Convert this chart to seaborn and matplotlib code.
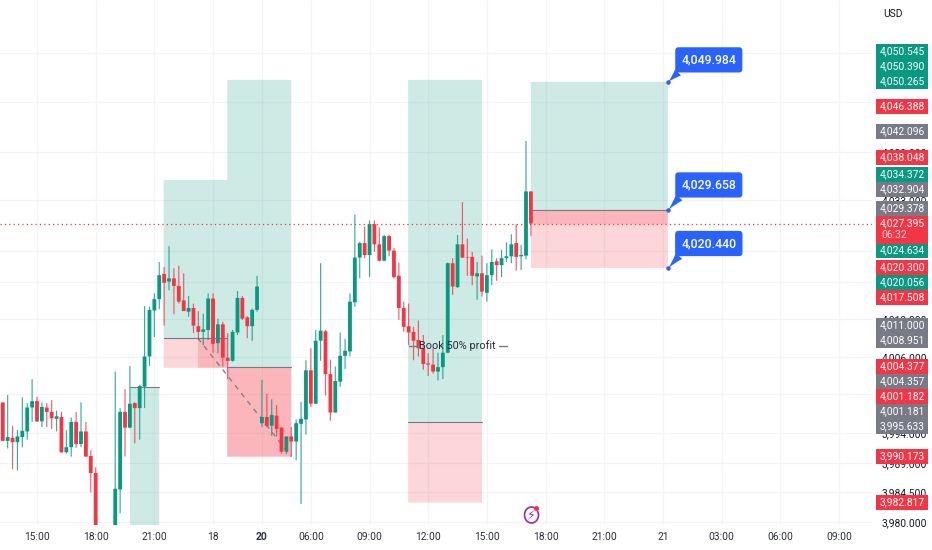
import numpy as np
import pandas as pd
import matplotlib
matplotlib.use("Agg")
import matplotlib.pyplot as plt
from matplotlib.patches import Rectangle, Ellipse
import seaborn as sns

nan = float("nan")

# 15 min bars, bar 0 is the 15:00 candle
first_bar = -7
opens = [3999.1, 3993.0, 3993.5, 3992.8, 3993.6, 3994.5, 3998.3,
         3999.3, 3996.1, 3998.3, 3997.6, 3996.5, 3996.8, 3991.2, 3992.0, 3996.0, 3992.5, 3994.5, 3990.6, 3987.9,
         nan, nan, nan,
         3978.0, 3985.3, 3997.6, 3995.1, 3999.0, 3998.2, 4001.6, 4006.4, 4013.7, 4015.5,
         4019.5, 4018.3, 4018.8, 4017.6, 4015.3, 4013.5, 4014.1, 4011.2, 4010.3, 4010.6, 4015.6, 4008.5, 4011.5, 4006.2,
         4005.7, 4010.2, 4015.7, 4012.6, 4011.2, 4013.8,
         3995.8, 3996.8, 3995.4, 3997.0, 3995.1, 3991.3, 3993.7, 3992.9, 3995.7, 3996.4,
         4004.2, 3998.9, 4008.9, 4010.4, 4003.6, 3997.5, 4002.4, 4006.5, 4007.2, 4015.0,
         4022.1, 4024.4, 4022.5, 4027.4, 4024.2, 4021.6, 4025.5, 4023.2, 4019.2, 4014.1, 4011.2, 4010.3, 4009.0, 4007.7,
         4005.3, 4005.1, 4004.0, 4004.7, 4007.0, 4021.2, 4017.4, 4024.2, 4022.2, 4022.2, 4019.1, 4019.6, 4016.5, 4019.3,
         4021.5, 4020.9, 4022.0, 4022.3, 4024.4, 4022.3, 4022.4, 4032.6]
highs = [3999.1, 4000.3, 3995.4, 3994.7, 3999.9, 3999.0, 4002.8,
         4000.0, 3999.1, 3999.0, 3999.5, 3997.8, 3997.6, 3994.7, 3996.7, 3997.6, 3999.1, 3996.0, 3991.5, 3988.8,
         nan, nan, nan,
         4004.0, 3998.2, 4001.2, 4004.9, 3999.1, 4001.9, 4014.4, 4014.3, 4016.4, 4021.4,
         4020.6, 4023.9, 4020.4, 4020.8, 4019.6, 4016.0, 4014.8, 4013.6, 4013.2, 4016.4, 4016.4, 4012.4, 4011.9, 4010.1,
         4010.6, 4016.8, 4016.0, 4012.8, 4014.0, 4019.2,
         4002.7, 4000.5, 3999.6, 3998.7, 3995.2, 3993.7, 3995.2, 3996.4, 3999.2, 4005.8,
         4007.7, 4010.6, 4021.2, 4010.6, 4005.9, 4004.8, 4010.2, 4009.2, 4016.4, 4028.9,
         4024.6, 4027.0, 4028.0, 4028.0, 4026.9, 4025.7, 4025.7, 4023.6, 4021.3, 4015.1, 4014.8, 4011.1, 4012.1, 4009.8,
         4006.9, 4007.7, 4007.0, 4009.8, 4021.3, 4022.0, 4025.7, 4030.9, 4025.1, 4023.0, 4021.4, 4022.4, 4021.2, 4023.4,
         4022.0, 4023.3, 4024.5, 4025.8, 4027.4, 4024.1, 4040.6, 4032.6]
lows = [3993.0, 3991.8, 3988.5, 3988.3, 3992.0, 3993.2, 3996.0,
        3996.0, 3995.2, 3995.2, 3994.9, 3994.5, 3991.1, 3991.0, 3990.5, 3991.9, 3992.0, 3990.5, 3984.8, 3978.0,
        nan, nan, nan,
        3978.0, 3981.5, 3990.5, 3995.0, 3992.6, 3993.2, 3998.2, 4004.9, 4009.5, 4013.9,
        4011.3, 4016.9, 4013.1, 4014.8, 4013.6, 4012.7, 4010.1, 4009.0, 4008.2, 4009.0, 4007.0, 4006.9, 4004.8, 4002.8,
        4005.6, 4009.8, 4012.2, 4009.3, 4008.9, 4013.5,
        3995.2, 3995.2, 3993.8, 3993.7, 3991.0, 3990.9, 3990.5, 3989.9, 3983.0, 3994.0,
        3998.4, 3998.9, 4005.7, 4000.2, 3996.2, 3997.5, 4001.6, 4004.4, 4006.4, 4014.3,
        4018.8, 4022.0, 4019.0, 4023.0, 4021.5, 4021.5, 4022.3, 4018.8, 4012.2, 4010.3, 4008.2, 4005.8, 4006.4, 4004.3,
        4003.3, 4003.7, 4002.6, 4002.8, 4006.9, 4016.2, 4017.3, 4022.0, 4019.2, 4017.7, 4015.4, 4015.9, 4015.1, 4017.7,
        4018.4, 4019.0, 4021.4, 4021.2, 4020.0, 4020.1, 4021.8, 4025.5]
closes = [3993.0, 3993.6, 3992.8, 3993.7, 3994.6, 3998.3, 3999.3,
          3996.1, 3998.4, 3997.6, 3996.6, 3996.9, 3991.2, 3992.0, 3996.0, 3992.5, 3994.5, 3990.5, 3987.9, 3978.0,
          nan, nan, nan,
          3985.4, 3997.6, 3995.1, 3998.9, 3998.2, 4001.7, 4006.4, 4013.8, 4015.5, 4019.3,
          4018.1, 4018.8, 4017.6, 4015.1, 4013.6, 4014.1, 4011.3, 4010.3, 4010.7, 4015.6, 4008.4, 4011.5, 4006.2, 4005.7,
          4010.3, 4015.7, 4012.4, 4011.2, 4013.8, 4017.5,
          3996.8, 3995.4, 3997.1, 3994.9, 3991.3, 3993.7, 3992.9, 3995.8, 3996.5, 4004.2,
          3998.9, 4008.9, 4010.5, 4003.6, 3997.5, 4002.5, 4006.5, 4007.3, 4015.1, 4022.1,
          4024.4, 4022.5, 4027.4, 4024.2, 4021.6, 4025.5, 4023.2, 4019.0, 4014.1, 4011.1, 4010.2, 4008.9, 4007.7, 4005.2,
          4005.1, 4004.0, 4004.7, 4007.0, 4021.2, 4017.5, 4024.2, 4022.1, 4022.1, 4019.2, 4019.6, 4016.7, 4019.3, 4021.4,
          4020.9, 4022.0, 4022.3, 4024.2, 4022.2, 4022.5, 4032.6, 4027.5]

time_ticks = [0, 12, 24, 36, 46, 56, 68, 80, 92, 104, 116, 128, 140, 152, 164]
time_labels = ["15:00", "18:00", "21:00", "18", "20", "06:00", "09:00", "12:00", "15:00", "18:00", "21:00", "21", "03:00", "06:00", "09:00"]
price_ticks = [4054.6, 4046.8, 4038.8, 4031.2, 4023.1, 4018.2, 4012.3, 4006.3, 4000.4, 3994.2, 3989.5, 3984.9, 3980.1]
price_labels = ["4,052.000", "4,046.000", "4,039.000", "4,033.000", "4,026.000", "4,020.000", "4,013.000", "4,006.000",
                "4,000.000", "3,994.000", "3,989.000", "3,984.500", "3,980.000"]
last_price = 4027.395

# position tools: start bar, end bar, target, entry, stop
tool_start = [19.0, 25.9, 38.9, 75.9, 101.0]
tool_end = [25.0, 38.9, 52.0, 91.0, 129.0]
tool_target = [4001.5, 4034.4, 4050.3, 4050.3, 4049.984]
tool_entry = [3979.0, 4009.3, 4004.7, 3996.0, 4029.658]
tool_stop = [3979.0, 4004.6, 3990.5, 3983.2, 4020.44]
tool_top_line = [True, False, False, False, False]

callout_prices = [4049.984, 4029.658, 4020.44]
callout_rise = [22, 25, 24.5]

side_texts = ["4,050.545", "4,050.390", "4,050.265", "4,046.388", "4,042.096", "4,038.048", "4,034.372", "4,032.904",
              "4,029.378", "4,024.634", "4,020.300", "4,020.056", "4,017.508", "4,011.000", "4,008.951", "4,004.377",
              "4,004.357", "4,001.182", "4,001.181", "3,995.633", "3,990.173", "3,982.817"]
side_kinds = ["g", "g", "g", "r", "k", "r", "g", "k", "k", "g", "r", "g", "r", "k", "k", "r", "k", "r", "k", "k", "r", "r"]
side_y = [51.7, 66.7, 81, 106, 131.7, 157.7, 174.3, 189.3, 208.3, 250, 267.3, 282.3, 297.3, 325, 340, 366.7, 381.7, 396.7,
          411.7, 426, 456.7, 502.3]

GREEN = "#089981"
RED = "#f23645"
GREY = "#787b86"
BLUE = "#2962ff"
INK = "#131722"

sns.set_theme(style="whitegrid", rc={"grid.color": "#f3f4f7", "grid.linewidth": 0.9})
plt.rcParams["font.family"] = ["Roboto", "DejaVu Sans"]

df = pd.DataFrame({"open": opens, "high": highs, "low": lows, "close": closes})
df["bar"] = np.arange(len(df)) + first_bar
df = df.dropna()
df["top"] = df[["open", "close"]].max(axis=1)
df["bottom"] = df[["open", "close"]].min(axis=1)
df["wick"] = df["high"] - df["low"]
df["body"] = df["top"] - df["bottom"]

fig = plt.figure(figsize=(9.32, 5.5), dpi=100, facecolor="white")
ax = fig.add_axes([0, 25 / 550, 872 / 932, 525 / 550])
ax.set_axisbelow(True)

# tools first so the candles sit on top
for s, e, t, en, st, line in zip(tool_start, tool_end, tool_target, tool_entry, tool_stop, tool_top_line):
    ax.add_patch(Rectangle((s, en), e - s, t - en, fc=GREEN, alpha=0.2, lw=0, zorder=1))
    if st < en:
        ax.add_patch(Rectangle((s, st), e - s, en - st, fc=RED, alpha=0.2, lw=0, zorder=1))
        ax.plot([s, e], [en, en], color=GREY, lw=0.8, zorder=1.5)
    if line:
        ax.plot([s, e], [t, t], color=GREY, lw=0.8, zorder=1.5)
# darker red where the trade was already running
ax.add_patch(Rectangle((32.9, 4004.6), 6.0, 4.7, fc=RED, alpha=0.2, lw=0, zorder=1))
ax.add_patch(Rectangle((38.9, 3990.5), 13.1, 14.2, fc=RED, alpha=0.2, lw=0, zorder=1))
ax.add_patch(Rectangle((101.0, last_price), 28.0, 4029.658 - last_price, fc=RED, alpha=0.2, lw=0, zorder=1))
ax.plot([32.9, 52.0], [4009.3, 3990.5], color=GREY, lw=0.9, ls=(0, (4, 4)), zorder=1.6)

# wicks then bodies, as floating bars
for is_up, color in [(True, GREEN), (False, RED)]:
    part = df[(df["close"] >= df["open"]) == is_up]
    sns.barplot(data=part, x="bar", y="wick", bottom=part["low"].values, color=color, native_scale=True,
                width=0.24, errorbar=None, saturation=1, alpha=0.8, linewidth=0, zorder=2, ax=ax)
    sns.barplot(data=part, x="bar", y="body", bottom=part["bottom"].values, color=color, native_scale=True,
                width=0.78, errorbar=None, saturation=1, linewidth=0, zorder=3, ax=ax)
# thin bars vanish when they snap to the pixel grid
for bar in ax.patches:
    bar.set_snap(False)

ax.axhline(last_price, color=RED, lw=0.9, ls=(0, (1, 2.5)), zorder=4)

ax.set_xlim((0 - 37) / 4.89, (872 - 37) / 4.89)
ax.set_ylim(4020.44 - 257 / 6.3, 4020.44 + 268 / 6.3)
ax.set_xlabel("")
ax.set_ylabel("")
for sp in ax.spines.values():
    sp.set_visible(False)
ax.set_xticks(time_ticks, time_labels)
ax.yaxis.tick_right()
ax.set_yticks(price_ticks, price_labels)
ax.tick_params(axis="x", length=0, pad=5, labelsize=7.4, labelcolor="#2a2e39")
ax.tick_params(axis="y", length=0, pad=7, labelsize=7.4, labelcolor=INK)
ax.get_xticklabels()[4].set_fontweight("bold")
ax.grid(True, zorder=0)

# note on the chart
ax.text(86.05, 4008.06, "Book 50% profit", ha="center", va="center", fontsize=7.8, color="#2a2e39", zorder=5)
ax.plot([76.0, 78.0], [4008.1, 4008.1], color=GREY, lw=1, zorder=5)
ax.plot([94.5, 96.2], [4008.1, 4008.1], color=GREY, lw=1, zorder=5)

# blue price callouts
for p, rise in zip(callout_prices, callout_rise):
    ax.annotate(f"{p:,.3f}", xy=(129.1, p), xytext=(40.5, rise), textcoords="offset pixels", ha="center", va="center",
                fontsize=8.8, fontweight="medium", color="white", zorder=6, annotation_clip=False,
                bbox=dict(boxstyle="round,pad=0.5,rounding_size=0.25", fc=BLUE, ec=BLUE, lw=0),
                arrowprops=dict(arrowstyle="wedge,tail_width=0.7,shrink_factor=0.4", fc=BLUE, ec=BLUE, lw=0,
                                shrinkA=0, shrinkB=0, relpos=(0.08, 0.1)))
    ax.scatter([129.1], [p], s=5, color=BLUE, zorder=7, clip_on=False)

# price scale badges, in pixels of the figure
over = fig.add_axes([0, 0, 1, 1], zorder=10)
over.set_xlim(0, 932)
over.set_ylim(550, 0)
over.axis("off")
over.patch.set_alpha(0)
kind_colors = {"g": GREEN, "r": RED, "k": GREY}
for txt, kind, y in zip(side_texts, side_kinds, side_y):
    over.add_patch(Rectangle((875.5, y - 7.5), 52.5, 15.2, fc=kind_colors[kind], lw=0))
    over.text(902, y, txt, ha="center", va="center", fontsize=7.4, color="white")
over.add_patch(Rectangle((875.5, 216), 52.5, 28, fc=RED, lw=0))
over.text(902, 223.3, f"{last_price:,.3f}", ha="center", va="center", fontsize=7.4, color="white")
over.text(881.5, 235.5, "06:32", ha="left", va="center", fontsize=7.4, color="#ffd5d9")
over.text(893, 14, "USD", ha="center", va="center", fontsize=7.4, color=INK)

# lightning badge
over.add_patch(Ellipse((531.5, 515), 14, 16, fc="white", ec="#9c27b0", lw=1.2))
over.text(531.5, 515.5, "\u26a1", ha="center", va="center", fontsize=9, color="#9c27b0", family="DejaVu Sans")
over.scatter([536], [508], s=7, color=RED, zorder=3)

fig.savefig("out.png", dpi=100)
